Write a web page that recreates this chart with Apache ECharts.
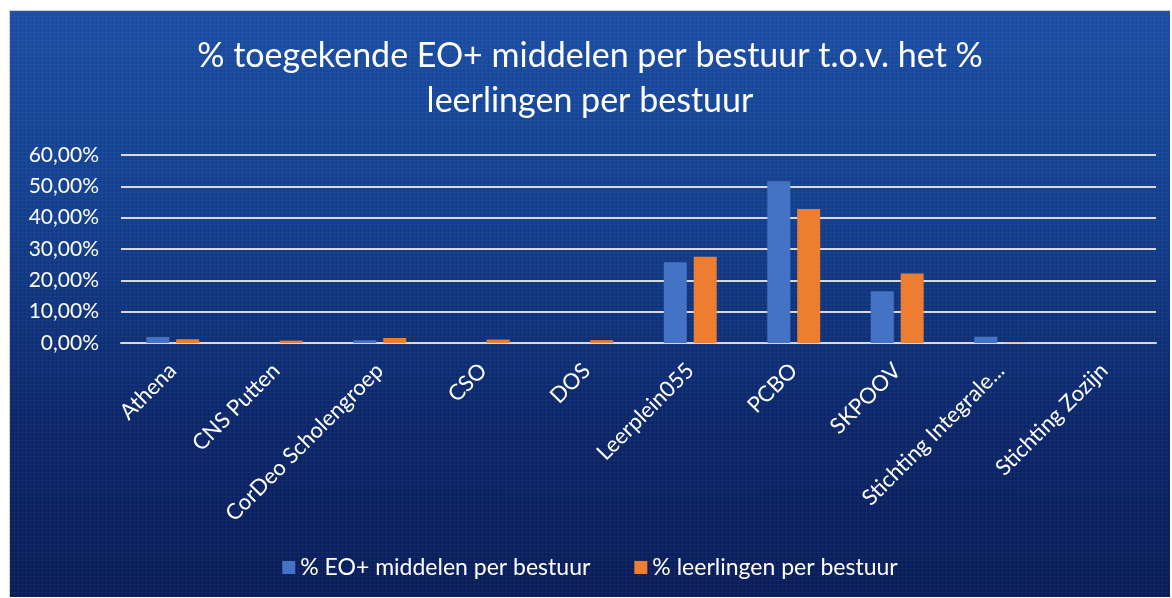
<!DOCTYPE html>
<html>
<head>
<meta charset="utf-8">
<script src="https://cdn.jsdelivr.net/npm/echarts@6/dist/echarts.min.js"></script>
<style>
  html, body { margin: 0; padding: 0; background: #fff; }
  #chart {
    position: absolute; left: 9px; top: 10px; width: 1160px; height: 586px;
    border-left: 1px solid #cfcfcf; border-top: 1px solid #cfcfcf;
    background:
      repeating-linear-gradient(90deg, rgba(255,255,255,0.035) 0 1px, rgba(0,0,0,0) 1px 4px),
      repeating-linear-gradient(0deg, rgba(255,255,255,0.035) 0 1px, rgba(0,0,0,0) 1px 4px),
      linear-gradient(180deg, #1a4da3 0%, #123e8c 35%, #0b2669 70%, #081c58 100%);
  }
</style>
</head>
<body>
<div id="chart"></div>
<script>
'use strict';

var categories = ['Athena', 'CNS Putten', 'CorDeo Scholengroep', 'CSO', 'DOS', 'Leerplein055', 'PCBO', 'SKPOOV', 'Stichting Integrale...', 'Stichting Zozijn'];
var eoMiddelen = [0.019, 0, 0.009, 0, 0, 0.258, 0.516, 0.165, 0.020, 0];
var leerlingen = [0.012, 0.0075, 0.016, 0.011, 0.009, 0.275, 0.428, 0.222, 0.001, 0];
var seriesNames = ['% EO+ middelen per bestuur', '% leerlingen per bestuur'];

var fontFamily = 'Lato, "Open Sans", sans-serif';

function pct(v) {
  return (v * 100).toFixed(2).replace('.', ',') + '%';
}

var myChart = echarts.init(document.getElementById('chart'));
myChart.setOption({
  backgroundColor: 'transparent',
  animation: false,
  textStyle: { fontFamily: fontFamily },
  title: {
    text: '% toegekende EO+ middelen per bestuur t.o.v. het %\nleerlingen per bestuur',
    left: 'center',
    top: 18,
    textStyle: {
      color: '#ffffff',
      fontSize: 34,
      fontWeight: 'normal',
      lineHeight: 45,
      fontFamily: fontFamily,
    },
  },
  color: ['#4472c4', '#ed7d31'],
  grid: {
    left: 111,
    right: 14,
    top: 144,
    bottom: 254,
  },
  legend: {
    bottom: 13,
    left: 'center',
    itemWidth: 13,
    itemHeight: 13,
    itemGap: 44,
    icon: 'rect',
    textStyle: { color: '#ffffff', fontSize: 23, fontFamily: fontFamily },
    data: seriesNames,
  },
  xAxis: {
    type: 'category',
    data: categories,
    axisLine: { lineStyle: { color: '#d9d9d9', width: 2 } },
    axisTick: { show: false },
    axisLabel: {
      interval: 0,
      rotate: 45,
      color: '#ffffff',
      fontSize: 22,
      margin: 24,
    },
  },
  yAxis: {
    type: 'value',
    min: 0,
    max: 0.6,
    interval: 0.1,
    axisLine: { show: false },
    axisTick: { show: false },
    axisLabel: {
      color: '#ffffff',
      fontSize: 21,
      margin: 22,
      formatter: pct,
    },
    splitLine: { lineStyle: { color: '#d9d9d9', width: 2 } },
  },
  series: [{
    name: seriesNames[0],
    type: 'bar',
    data: eoMiddelen,
    barWidth: 23,
    barGap: '30%',
  }, {
    name: seriesNames[1],
    type: 'bar',
    data: leerlingen,
    barWidth: 23,
    barGap: '30%',
  }, ],
});
</script>
</body>
</html>
